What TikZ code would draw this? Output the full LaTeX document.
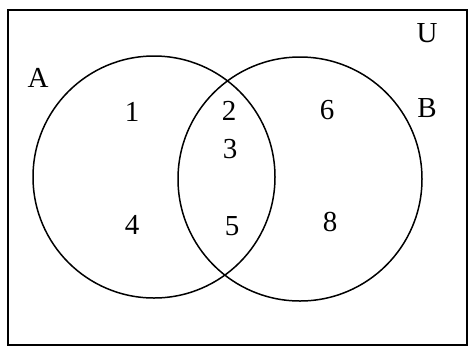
\documentclass[tikz,border=0pt]{standalone}
\usepackage{fontspec}
\setmainfont{Liberation Serif}
\begin{document}
\begin{tikzpicture}[x=1pt, y=-1pt, line width=1.5pt,
    lab/.style={font=\fontsize{29}{31}\selectfont, inner sep=0pt}]
  \useasboundingbox (0, 0) rectangle (471, 349);
  \draw[line width=2pt] (8, 10) rectangle (467, 345);

  \coordinate (CA) at (154, 177);
  \coordinate (CB) at (300, 179);

  \draw (CA) circle (121);
  \draw (CB) circle (122);

  \node[lab] (U) at (427, 33) {U};
  \node[lab] (A) at (38, 78) {A};
  \node[lab] (B) at (427, 108) {B};

  \node[lab] (r1) at (132, 112) {1};
  \node[lab] (r2) at (229, 111) {2};
  \node[lab] (r6) at (327, 110) {6};
  \node[lab] (r3) at (230, 149) {3};
  \node[lab] (r4) at (132, 225) {4};
  \node[lab] (r5) at (232, 226) {5};
  \node[lab] (r8) at (330, 222) {8};
\end{tikzpicture}
\end{document}
